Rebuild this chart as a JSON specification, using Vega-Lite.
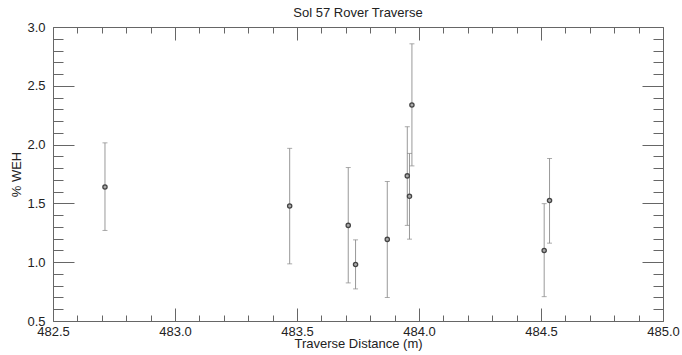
{
  "$schema": "https://vega.github.io/schema/vega-lite/v6.json",
  "autosize": "none",
  "padding": {"left": 53, "top": 27, "right": 19, "bottom": 34},
  "width": 610,
  "height": 294,
  "background": "white",
  "title": {"text": "Sol 57 Rover Traverse", "font": "Liberation Sans", "fontSize": 13, "fontWeight": "normal", "color": "#222", "anchor": "middle", "baseline": "alphabetic", "offset": -9},
  "config": {"view": {"stroke": null}},
  "data": {"values": [
    {"dist": 482.713, "weh": 1.64, "lo": 1.27, "hi": 2.015},
    {"dist": 483.47, "weh": 1.478, "lo": 0.986, "hi": 1.968},
    {"dist": 483.71, "weh": 1.313, "lo": 0.824, "hi": 1.805},
    {"dist": 483.74, "weh": 0.98, "lo": 0.773, "hi": 1.19},
    {"dist": 483.87, "weh": 1.194, "lo": 0.70, "hi": 1.686},
    {"dist": 483.952, "weh": 1.734, "lo": 1.313, "hi": 2.152},
    {"dist": 483.961, "weh": 1.56, "lo": 1.196, "hi": 1.925},
    {"dist": 483.971, "weh": 2.337, "lo": 1.819, "hi": 2.857},
    {"dist": 484.513, "weh": 1.10, "lo": 0.707, "hi": 1.498},
    {"dist": 484.535, "weh": 1.524, "lo": 1.162, "hi": 1.882}
  ]},
  "resolve": {"axis": {"x": "independent", "y": "independent"}},
  "layer": [
    {
      "mark": {"type": "rule", "color": "#999", "strokeWidth": 1},
      "encoding": {
        "x": {"field": "dist", "type": "quantitative",
          "scale": {"domain": [482.5, 485.0], "nice": false, "zero": false},
          "axis": {"orient": "bottom", "grid": false,
            "values": [482.5,482.6,482.7,482.8,482.9,483.0,483.1,483.2,483.3,483.4,483.5,483.6,483.7,483.8,483.9,484.0,484.1,484.2,484.3,484.4,484.5,484.6,484.7,484.8,484.9,485.0],
            "tickSize": {"condition": {"test": "abs(datum.value*2-round(datum.value*2))<0.001", "value": -13}, "value": -6},
            "labelExpr": "abs(datum.value*2-round(datum.value*2))<0.001 ? format(datum.value,'.1f') : ''",
            "labelOverlap": false, "labelFlush": false, "labelPadding": 17,
            "domainColor": "#666", "tickColor": "#666", "labelColor": "#222",
            "labelFont": "Liberation Sans", "labelFontSize": 13,
            "title": "Traverse Distance (m)", "titleFont": "Liberation Sans", "titleFontSize": 13, "titleFontWeight": "normal", "titleColor": "#222",
            "titleY": 26, "titleBaseline": "alphabetic"}},
        "y": {"field": "lo", "type": "quantitative",
          "scale": {"domain": [0.5, 3.0], "nice": false, "zero": false},
          "axis": {"orient": "left", "grid": false,
            "values": [0.5,0.6,0.7,0.8,0.9,1.0,1.1,1.2,1.3,1.4,1.5,1.6,1.7,1.8,1.9,2.0,2.1,2.2,2.3,2.4,2.5,2.6,2.7,2.8,2.9,3.0],
            "tickSize": {"condition": {"test": "abs(datum.value*2-round(datum.value*2))<0.001", "value": -21}, "value": -10},
            "labelExpr": "abs(datum.value*2-round(datum.value*2))<0.001 ? format(datum.value,'.1f') : ''",
            "labelOverlap": false, "labelFlush": false, "labelPadding": 29,
            "domainColor": "#666", "tickColor": "#666", "labelColor": "#222",
            "labelFont": "Liberation Sans", "labelFontSize": 13,
            "title": "% WEH", "titleFont": "Liberation Sans", "titleFontSize": 13, "titleFontWeight": "normal", "titleColor": "#222",
            "titleX": -37, "titleBaseline": "middle"}},
        "y2": {"field": "hi"}
      }
    },
    {
      "mark": {"type": "tick", "orient": "horizontal", "color": "#888", "size": 5, "thickness": 1},
      "encoding": {
        "x": {"field": "dist", "type": "quantitative", "axis": null},
        "y": {"field": "lo", "type": "quantitative", "axis": null}
      }
    },
    {
      "mark": {"type": "tick", "orient": "horizontal", "color": "#888", "size": 5, "thickness": 1},
      "encoding": {
        "x": {"field": "dist", "type": "quantitative", "axis": null},
        "y": {"field": "hi", "type": "quantitative", "axis": null}
      }
    },
    {
      "mark": {"type": "point", "filled": false, "stroke": "#444", "fill": "#aaa", "fillOpacity": 1, "strokeWidth": 1.3, "size": 18},
      "encoding": {
        "x": {"field": "dist", "type": "quantitative",
          "axis": {"orient": "top", "grid": false, "labels": false, "title": null,
            "values": [482.5,482.6,482.7,482.8,482.9,483.0,483.1,483.2,483.3,483.4,483.5,483.6,483.7,483.8,483.9,484.0,484.1,484.2,484.3,484.4,484.5,484.6,484.7,484.8,484.9,485.0],
            "tickSize": {"condition": {"test": "abs(datum.value*2-round(datum.value*2))<0.001", "value": -13}, "value": -6},
            "domainColor": "#666", "tickColor": "#666"}},
        "y": {"field": "weh", "type": "quantitative",
          "axis": {"orient": "right", "grid": false, "labels": false, "title": null,
            "values": [0.5,0.6,0.7,0.8,0.9,1.0,1.1,1.2,1.3,1.4,1.5,1.6,1.7,1.8,1.9,2.0,2.1,2.2,2.3,2.4,2.5,2.6,2.7,2.8,2.9,3.0],
            "tickSize": {"condition": {"test": "abs(datum.value*2-round(datum.value*2))<0.001", "value": -21}, "value": -10},
            "domainColor": "#666", "tickColor": "#666"}}
      }
    }
  ]
}
